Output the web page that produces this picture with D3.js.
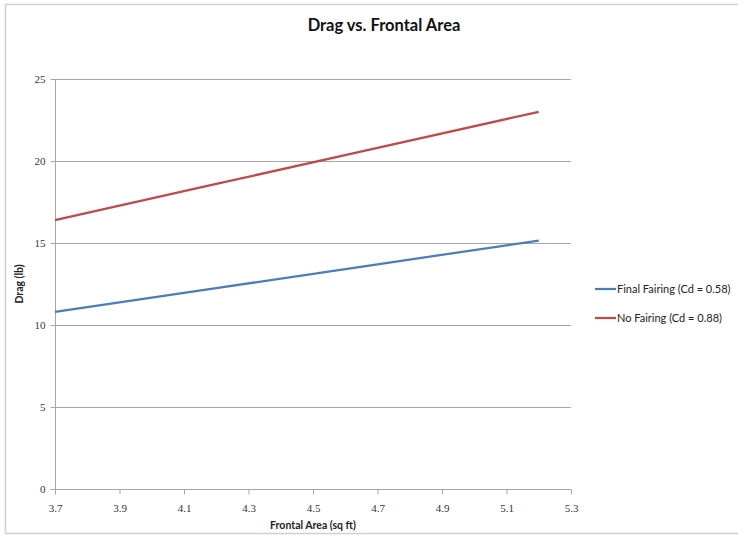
<!DOCTYPE html>
<html>
<head>
<meta charset="utf-8">
<script src="https://cdn.jsdelivr.net/npm/d3@7"></script>
<style>
  html, body { margin: 0; padding: 0; background: #fff; }
  svg { display: block; }
</style>
</head>
<body>
<svg id="chart" width="738" height="539"></svg>
<script>
// Frontal area (sq ft) sampled along each curve
const areas = [3.7, 4.2, 4.7, 5.2];
// Drag (lb) for each configuration
const finalFairing = [10.8, 12.25, 13.7, 15.15];
const noFairing = [16.4, 18.6, 20.8, 23.0];
const seriesNames = ["Final Fairing (Cd = 0.58)", "No Fairing (Cd = 0.88)"];
const seriesColors = ["#4a7ebb", "#be4b48"];
const xTicks = [3.7, 3.9, 4.1, 4.3, 4.5, 4.7, 4.9, 5.1, 5.3];
const yTicks = [0, 5, 10, 15, 20, 25];

const svg = d3.select("#chart");

// outer chart frame
svg.append("rect")
  .attr("x", 5.5).attr("y", 4.5)
  .attr("width", 740).attr("height", 529)
  .attr("fill", "#fff")
  .attr("stroke", "#d0d0d0").attr("stroke-width", 1.5);

const m = { left: 55, right: 571, top: 79, bottom: 489 };
const x = d3.scaleLinear().domain([3.7, 5.3]).range([m.left, m.right]);
const y = d3.scaleLinear().domain([0, 25]).range([m.bottom, m.top]);

// horizontal gridlines
svg.append("g").selectAll("line")
  .data(yTicks.filter(d => d > 0))
  .join("line")
  .attr("x1", m.left).attr("x2", m.right)
  .attr("y1", d => Math.round(y(d)) + 0.5).attr("y2", d => Math.round(y(d)) + 0.5)
  .attr("stroke", "#a6a6a6").attr("stroke-width", 1);

const tickFont = "'Liberation Serif', 'DejaVu Serif', serif";

// y axis
const yAxis = svg.append("g")
  .attr("transform", `translate(${m.left + 0.5},0)`)
  .call(d3.axisLeft(y).tickValues(yTicks).tickSize(5).tickPadding(5).tickFormat(d3.format("d")));
yAxis.select(".domain").attr("stroke", "#a6a6a6").attr("d", `M0,${m.top}V${m.bottom}`);
yAxis.selectAll(".tick line").attr("stroke", "#a6a6a6");
yAxis.selectAll(".tick text")
  .attr("font-family", tickFont).attr("font-size", 11).attr("fill", "#333");

// x axis
const xAxis = svg.append("g")
  .attr("transform", `translate(0,${m.bottom + 0.5})`)
  .call(d3.axisBottom(x).tickValues(xTicks).tickSize(5).tickPadding(10).tickFormat(d3.format(".1f")));
xAxis.select(".domain").attr("stroke", "#a6a6a6").attr("d", `M${m.left},0H${m.right}`);
xAxis.selectAll(".tick line").attr("stroke", "#a6a6a6");
xAxis.selectAll(".tick text")
  .attr("font-family", tickFont).attr("font-size", 11).attr("fill", "#333");

// series lines
const line = d3.line().x(d => x(d[0])).y(d => y(d[1]));
const series = [finalFairing, noFairing];
svg.append("g").selectAll("path")
  .data(series)
  .join("path")
  .attr("d", vals => line(areas.map((a, i) => [a, vals[i]])))
  .attr("fill", "none")
  .attr("stroke", (d, i) => seriesColors[i])
  .attr("stroke-width", 2.25);

const labelFont = "Lato, 'Open Sans', sans-serif";

// title
svg.append("text")
  .attr("x", 384).attr("y", 31)
  .attr("text-anchor", "middle")
  .attr("font-family", labelFont).attr("font-weight", "bold")
  .attr("font-size", 16.5).attr("fill", "#111")
  .text("Drag vs. Frontal Area");

// axis titles
svg.append("text")
  .attr("x", (m.left + m.right) / 2).attr("y", 529)
  .attr("text-anchor", "middle")
  .attr("font-family", labelFont).attr("font-weight", "bold")
  .attr("font-size", 10.5).attr("fill", "#222")
  .text("Frontal Area (sq ft)");

svg.append("text")
  .attr("transform", `translate(23,${(m.top + m.bottom) / 2}) rotate(-90)`)
  .attr("text-anchor", "middle")
  .attr("font-family", labelFont).attr("font-weight", "bold")
  .attr("font-size", 10.5).attr("fill", "#222")
  .text("Drag (lb)");

// legend
const legend = svg.append("g").selectAll("g")
  .data(seriesNames)
  .join("g")
  .attr("transform", (d, i) => `translate(595,${289 + i * 29})`);
legend.append("line")
  .attr("x1", 0).attr("x2", 21)
  .attr("stroke", (d, i) => seriesColors[i]).attr("stroke-width", 2.25);
legend.append("text")
  .attr("x", 22).attr("y", 4)
  .attr("font-family", labelFont).attr("font-size", 11).attr("fill", "#222")
  .text(d => d);
</script>
</body>
</html>
